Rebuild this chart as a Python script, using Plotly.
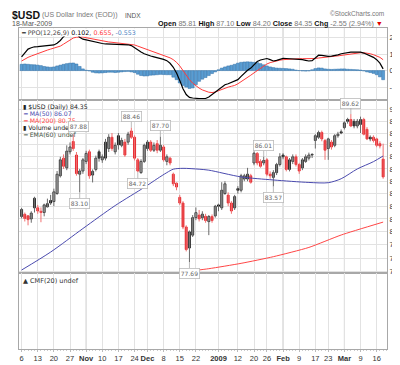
import math
import pandas as pd
import plotly.graph_objects as go
from plotly.subplots import make_subplots

# ---------------- data ----------------
holidays = ['2008-11-27', '2008-12-25', '2009-01-01', '2009-01-19', '2009-02-16']
days = [d for d in pd.bdate_range('2008-10-06', '2009-03-18') if d.strftime('%Y-%m-%d') not in holidays]
date_str = [d.strftime('%Y-%m-%d') for d in days]
pos = {s: i for i, s in enumerate(date_str)}
xi = list(range(len(days)))

opens = [81.19, 81.36, 81.24, 81.00, 81.87, 81.87, 81.60, 81.50, 81.95, 82.45,
         82.37, 83.01, 84.44, 85.89, 85.09, 86.42, 87.28, 86.15, 84.57, 84.83,
         85.62, 86.42, 84.50, 84.96, 86.42, 85.75, 85.89, 86.69, 87.64, 86.42,
         87.77, 86.96, 87.23, 87.23, 88.17, 87.64, 85.75, 84.70, 85.62, 86.69,
         87.23, 86.55, 87.10, 86.55, 86.82, 85.62, 85.89, 84.57, 83.84, 82.70,
         82.25, 80.37, 78.76, 79.74, 81.10, 81.30, 81.10, 81.20, 80.79, 81.19,
         81.24, 82.10, 81.87, 83.01, 82.88, 82.25, 81.87, 83.40, 83.27, 84.18,
         84.18, 84.44, 85.49, 86.28, 85.62, 85.50, 85.75, 84.57, 84.31, 84.70,
         85.36, 86.15, 86.00, 84.96, 85.62, 86.00, 85.36, 85.09, 85.62, 85.89,
         86.20, 87.37, 87.64, 88.04, 87.37, 86.69, 87.23, 86.96, 87.77, 88.10,
         88.46, 89.15, 89.15, 89.00, 88.60, 88.73, 89.15, 88.31, 87.64, 87.64,
         87.50, 87.10, 85.81]
highs = [81.87, 81.50, 81.30, 81.60, 82.75, 82.10, 81.90, 82.20, 82.60, 82.90,
         83.40, 84.83, 86.00, 86.20, 86.96, 87.20, 87.88, 86.40, 85.00, 85.90,
         86.50, 86.60, 84.96, 86.10, 86.60, 86.20, 87.50, 87.90, 88.00, 87.20,
         88.00, 87.60, 87.50, 88.10, 88.46, 87.80, 85.90, 85.80, 87.10, 87.40,
         87.40, 87.20, 87.40, 87.70, 87.00, 86.20, 86.00, 84.70, 83.90, 82.90,
         82.40, 80.50, 80.10, 81.30, 81.90, 81.70, 81.60, 81.40, 81.30, 81.35,
         82.10, 82.20, 83.92, 84.00, 83.10, 82.40, 82.90, 83.60, 84.60, 84.60,
         85.09, 84.60, 86.45, 86.40, 85.80, 86.01, 85.90, 84.80, 84.90, 85.50,
         86.30, 86.30, 86.10, 85.90, 86.20, 86.20, 85.50, 85.90, 86.20, 86.35,
         86.30, 87.90, 88.20, 88.20, 87.50, 87.60, 87.40, 87.90, 88.10, 88.30,
         89.00, 89.30, 89.62, 89.20, 89.20, 89.40, 89.30, 88.50, 87.80, 87.80,
         87.60, 87.30, 87.10]
lows = [81.04, 80.80, 80.50, 80.70, 81.50, 81.40, 80.74, 81.20, 81.90, 82.10,
        82.00, 82.90, 84.30, 85.00, 84.90, 86.20, 86.50, 84.45, 83.10, 84.60,
        85.40, 84.20, 83.90, 84.80, 85.60, 85.50, 85.70, 86.40, 86.50, 86.20,
        86.60, 86.80, 86.00, 87.00, 87.50, 85.70, 84.72, 84.60, 85.50, 86.50,
        86.40, 86.40, 86.30, 86.40, 85.60, 85.30, 85.30, 83.60, 83.27, 82.10,
        80.20, 78.50, 77.69, 79.60, 80.90, 80.80, 80.90, 80.70, 79.74, 80.70,
        81.10, 81.60, 81.70, 82.90, 82.00, 81.40, 81.70, 83.00, 83.10, 84.00,
        84.00, 83.80, 85.30, 85.30, 85.10, 85.30, 84.40, 84.20, 83.57, 84.50,
        85.20, 85.80, 84.80, 84.80, 85.40, 85.20, 84.60, 84.90, 85.50, 85.70,
        85.90, 86.69, 87.50, 87.30, 85.75, 85.75, 86.60, 86.80, 87.60, 87.90,
        88.30, 88.80, 88.50, 88.40, 88.40, 88.00, 87.80, 87.40, 87.30, 87.20,
        86.80, 86.70, 84.20]
closes = [81.74, 81.04, 80.94, 81.45, 82.63, 81.62, 81.50, 82.10, 82.20, 82.25,
          83.14, 84.57, 85.75, 85.22, 86.47, 86.82, 86.69, 84.62, 84.83, 85.75,
          86.28, 84.44, 84.80, 85.89, 85.89, 86.00, 87.23, 87.64, 86.69, 86.96,
          87.00, 87.37, 86.15, 87.90, 87.64, 85.89, 84.83, 85.62, 86.96, 87.23,
          86.55, 86.96, 86.55, 86.96, 85.75, 86.00, 85.49, 83.79, 83.53, 82.25,
          80.37, 78.64, 79.99, 81.10, 81.49, 81.00, 81.37, 80.87, 81.19, 80.87,
          81.99, 82.00, 83.27, 83.79, 82.25, 81.62, 82.76, 83.27, 84.44, 84.44,
          84.57, 83.92, 86.30, 85.49, 85.22, 85.70, 84.57, 84.44, 84.70, 85.36,
          86.00, 86.00, 84.96, 85.75, 86.00, 85.36, 84.83, 85.75, 86.00, 86.15,
          86.15, 87.77, 88.04, 87.50, 86.55, 87.50, 86.82, 87.77, 87.90, 88.00,
          88.87, 89.00, 88.60, 88.60, 89.00, 89.15, 87.90, 87.50, 87.50, 87.37,
          86.96, 86.90, 84.35]

ppo_line = [0.83, 1.10, 1.30, 1.38, 1.44, 1.45, 1.47, 1.48, 1.50, 1.52,
            1.55, 1.65, 1.82, 2.05, 2.25, 2.40, 2.45, 2.25, 2.02, 1.90,
            1.85, 1.80, 1.76, 1.72, 1.68, 1.64, 1.61, 1.60, 1.60, 1.59,
            1.60, 1.60, 1.58, 1.56, 1.51, 1.38, 1.22, 1.12, 1.02, 0.93,
            0.88, 0.83, 0.79, 0.74, 0.68, 0.60, 0.44, 0.20, -0.15, -0.60,
            -1.10, -1.45, -1.62, -1.66, -1.69, -1.70, -1.70, -1.69, -1.60, -1.45,
            -1.30, -1.15, -0.98, -0.86, -0.80, -0.72, -0.64, -0.55, -0.35, -0.14,
            0.02, 0.15, 0.38, 0.55, 0.64, 0.70, 0.73, 0.66, 0.58, 0.62,
            0.70, 0.74, 0.73, 0.72, 0.72, 0.71, 0.69, 0.66, 0.62, 0.58,
            0.60, 0.75, 0.93, 0.92, 0.88, 0.86, 0.87, 0.89, 0.95, 1.02,
            1.06, 1.10, 1.12, 1.12, 1.13, 1.12, 1.06, 0.98, 0.90, 0.80,
            0.66, 0.45, 0.102]
ppo_signal = [0.58, 0.70, 0.80, 0.88, 0.96, 1.04, 1.10, 1.17, 1.24, 1.30,
              1.35, 1.40, 1.48, 1.60, 1.73, 1.86, 1.97, 2.02, 2.04, 2.03,
              1.99, 1.95, 1.90, 1.86, 1.83, 1.79, 1.76, 1.73, 1.71, 1.69,
              1.67, 1.65, 1.63, 1.61, 1.59, 1.55, 1.48, 1.41, 1.33, 1.25,
              1.17, 1.10, 1.03, 0.97, 0.91, 0.85, 0.77, 0.66, 0.50, 0.28,
              0.00, -0.28, -0.55, -0.76, -0.92, -1.06, -1.17, -1.26, -1.31, -1.33,
              -1.30, -1.22, -1.14, -1.07, -1.00, -0.95, -0.90, -0.80, -0.68, -0.55,
              -0.42, -0.28, -0.14, 0.00, 0.14, 0.28, 0.40, 0.48, 0.54, 0.59,
              0.63, 0.66, 0.68, 0.70, 0.71, 0.72, 0.72, 0.72, 0.72, 0.71,
              0.71, 0.73, 0.76, 0.79, 0.81, 0.83, 0.85, 0.87, 0.89, 0.92,
              0.95, 0.99, 1.02, 1.04, 1.06, 1.08, 1.08, 1.06, 1.02, 0.96,
              0.90, 0.80, 0.655]
ppo_hist = [0.38, 0.40, 0.38, 0.36, 0.35, 0.33, 0.30, 0.25, 0.22, 0.20,
            0.22, 0.28, 0.33, 0.38, 0.42, 0.45, 0.46, 0.40, 0.25, 0.10,
            0.02, -0.02, -0.10, -0.14, -0.15, -0.14, -0.12, -0.10, -0.10, -0.12,
            -0.10, -0.08, -0.06, -0.05, -0.08, -0.12, -0.22, -0.30, -0.33, -0.32,
            -0.28, -0.27, -0.25, -0.23, -0.24, -0.25, -0.25, -0.40, -0.55, -0.75,
            -0.90, -1.00, -1.08, -1.05, -0.85, -0.65, -0.52, -0.42, -0.30, -0.18,
            -0.08, 0.05, 0.15, 0.22, 0.28, 0.32, 0.38, 0.45, 0.50, 0.52,
            0.53, 0.52, 0.50, 0.48, 0.42, 0.35, 0.28, 0.22, 0.18, 0.15,
            0.14, 0.13, 0.12, 0.10, 0.08, 0.03, 0.00, -0.02, -0.03, -0.02,
            0.05, 0.12, 0.16, 0.15, 0.10, 0.08, 0.07, 0.08, 0.09, 0.10,
            0.10, 0.08, 0.07, 0.06, 0.05, 0.03, -0.02, -0.08, -0.12, -0.17,
            -0.25, -0.38, -0.553]

ma50_dates = ['2008-10-06', '2008-10-17', '2008-10-31', '2008-11-14', '2008-11-28',
              '2008-12-04', '2008-12-09', '2008-12-11', '2008-12-16', '2008-12-23',
              '2008-12-29', '2009-01-13', '2009-01-28', '2009-02-12', '2009-02-23',
              '2009-02-27', '2009-03-06', '2009-03-13', '2009-03-18']
ma50_vals = [77.10, 78.45, 80.25, 82.05, 83.50, 84.20, 84.70, 84.98, 85.05, 84.98,
             84.90, 84.35, 84.10, 83.90, 83.88, 84.20, 85.00, 85.60, 86.07]
ma200_dates = ['2008-12-09', '2008-12-16', '2008-12-29', '2009-01-13', '2009-01-28',
               '2009-02-12', '2009-02-27', '2009-03-18']
ma200_vals = [76.70, 76.95, 77.20, 77.60, 78.10, 78.80, 79.75, 80.75]

tick_dates = ['2008-10-06', '2008-10-13', '2008-10-20', '2008-10-27', '2008-11-03',
              '2008-11-10', '2008-11-17', '2008-11-24', '2008-12-01', '2008-12-08',
              '2008-12-15', '2008-12-22', '2009-01-02', '2009-01-12', '2009-01-20',
              '2009-01-26', '2009-02-02', '2009-02-09', '2009-02-17', '2009-02-23',
              '2009-03-02', '2009-03-09', '2009-03-16']
tick_labels = ['6', '13', '20', '27', '<b>Nov</b>', '10', '17', '24', '<b>Dec</b>', '8',
               '15', '22', '<b>2009</b>', '12', '20', '26', '<b>Feb</b>', '9', '17', '23',
               '<b>Mar</b>', '9', '16']
month_dates = ['2008-11-03', '2008-12-01', '2009-01-02', '2009-02-02', '2009-03-02']
price_ticks = list(range(77, 91))
ppo_ticks = [-1, 0, 1, 2]

high_label_dates = ['2008-10-28', '2008-11-21', '2008-12-05', '2009-01-23', '2009-03-04']
low_label_dates = ['2008-10-30', '2008-11-25', '2008-12-18', '2009-01-28']

# ---------------- figure ----------------
RED = '#e3141c'
BLUE_MA = '#4a4aae'
RED_MA = '#ff4646'

fig = make_subplots(rows=3, cols=1, shared_xaxes=True, vertical_spacing=0)

# PPO panel
fig.add_trace(go.Bar(x=xi, y=ppo_hist, width=0.9,
                     marker=dict(color='#5a9dd2', line=dict(color='#2f6fa6', width=0.5)),
                     hoverinfo='skip'), row=1, col=1)
fig.add_trace(go.Scatter(x=xi, y=ppo_signal, mode='lines',
                         line=dict(color='#ff3b3b', width=1)), row=1, col=1)
fig.add_trace(go.Scatter(x=xi, y=ppo_line, mode='lines',
                         line=dict(color='#000000', width=1.2)), row=1, col=1)

# candle colours (StockCharts rule)
fills, edges = [], []
wk_x, wk_y, wr_x, wr_y = [], [], [], []
for i in xi:
    up = i == 0 or closes[i] >= closes[i - 1]
    col = '#000000' if up else RED
    hollow = closes[i] > opens[i]
    fills.append('#ffffff' if hollow else col)
    edges.append(col)
    if up:
        wk_x += [i, i, None]; wk_y += [lows[i], highs[i], None]
    else:
        wr_x += [i, i, None]; wr_y += [lows[i], highs[i], None]

fig.add_trace(go.Scatter(x=wk_x, y=wk_y, mode='lines', line=dict(color='#6a6a6a', width=1),
                         hoverinfo='skip'), row=2, col=1)
fig.add_trace(go.Scatter(x=wr_x, y=wr_y, mode='lines', line=dict(color='#f07070', width=1),
                         hoverinfo='skip'), row=2, col=1)
fig.add_trace(go.Bar(x=xi, y=[max(abs(c - o), 0.03) for o, c in zip(opens, closes)],
                     base=[min(o, c) for o, c in zip(opens, closes)], width=0.62,
                     marker=dict(color=fills, line=dict(color=edges, width=0.8))),
              row=2, col=1)
fig.add_trace(go.Scatter(x=[pos[d] for d in ma50_dates], y=ma50_vals, mode='lines',
                         line=dict(color=BLUE_MA, width=1, shape='spline', smoothing=0.8)),
              row=2, col=1)
fig.add_trace(go.Scatter(x=[pos[d] for d in ma200_dates], y=ma200_vals, mode='lines',
                         line=dict(color=RED_MA, width=1, shape='spline', smoothing=0.6)),
              row=2, col=1)

# empty CMF panel
fig.add_trace(go.Scatter(x=[xi[0]], y=[0.5], mode='markers', marker=dict(opacity=0),
                         hoverinfo='skip'), row=3, col=1)

L, R, T, B = 10, 21, 20, 11
W, H = 400, 365
pw, ph = W - L - R, H - T - B


def px(x):
    return (x - L) / pw


def py(y):
    return (H - B - y) / ph


tickfont = dict(family='Liberation Sans', size=7.5, color='#333')
tickvals = [pos[d] for d in tick_dates]
for ax in ['xaxis', 'xaxis2', 'xaxis3']:
    fig.layout[ax].update(range=[-0.8, 113.2], tickmode='array', tickvals=tickvals,
                          ticktext=tick_labels, showgrid=True, gridcolor='#e2e2e2', gridwidth=1,
                          showline=True, mirror=True, linecolor='#a8a8a8', linewidth=1,
                          zeroline=False, showticklabels=(ax == 'xaxis3'), tickfont=tickfont,
                          ticks='', tickangle=0)
fig.layout.xaxis3.update(ticks='outside', ticklen=2, tickcolor='#bbbbbb', tickangle=0,
                         minor=dict(dtick=1, tick0=0, ticklen=1, tickcolor='#cccccc', ticks='outside'))

fig.layout.yaxis.update(domain=[py(95), 1], range=[-1.785, 2.576], side='right',
                        tickmode='array', tickvals=ppo_ticks, ticktext=[str(v) for v in ppo_ticks],
                        showgrid=True, gridcolor='#e2e2e2', zeroline=False, showline=True,
                        mirror=True, linecolor='#a8a8a8', tickfont=tickfont, ticks='')
fig.layout.yaxis2.update(domain=[py(274.5), py(95)], type='log',
                         range=[math.log10(76.91), math.log10(90.84)], side='right',
                         tickmode='array', tickvals=price_ticks,
                         ticktext=[str(v) for v in price_ticks], showgrid=True,
                         gridcolor='#e2e2e2', zeroline=False, showline=True, mirror=True,
                         linecolor='#a8a8a8', tickfont=tickfont, ticks='')
fig.layout.yaxis3.update(domain=[0, py(274.5)], range=[0, 1], showgrid=False, zeroline=False,
                         showticklabels=False, showline=True, mirror=True, linecolor='#a8a8a8',
                         ticks='')

# darker month separators
for d in month_dates:
    fig.add_shape(type='line', xref='x3', yref='paper', x0=pos[d], x1=pos[d], y0=0, y1=1,
                  line=dict(color='#c4c4c4', width=1), layer='below')

ann = []
HF = 'Liberation Sans'
LF = 'DejaVu Sans'


def text(x, y, t, size=7, color='#000', family=HF, xanchor='left', bg=None):
    d = dict(x=px(x), y=py(y), xref='paper', yref='paper', text=t, showarrow=False,
             xanchor=xanchor, yanchor='middle', font=dict(family=family, size=size, color=color))
    if bg:
        d.update(bgcolor=bg, borderpad=0)
    ann.append(d)


# header
text(1, 6, '<b>$USD</b>', size=10.5, color='#111')
text(31, 6.5, '(US Dollar Index (EOD))', size=7, color='#777')
text(114, 6.5, 'INDX', size=6.5, color='#555')
text(378, 5, '©StockCharts.com', size=6.5, color='#777', xanchor='right')
text(1, 14.8, '18-Mar-2009', size=7, color='#555')
chg = closes[-1] - closes[-2]
hdr = ("<b>Open</b> <span style='color:#777'>%.2f</span> <b>High</b> <span style='color:#777'>%.2f</span> "
       "<b>Low</b> <span style='color:#777'>%.2f</span> <b>Close</b> <span style='color:#777'>%.2f</span> "
       "<b>Chg</b> <span style='color:#777'>%.2f (2.94%%)</span> <span style='color:#e00000'>▼</span>"
       % (opens[-1], highs[-1], lows[-1], closes[-1], chg))
text(377, 14.8, hdr, size=7.2, color='#111', xanchor='right')

# PPO legend
text(11, 24.2, "<span style='color:#000'>━</span> <span style='color:#444'>PPO(12,26,9)</span> "
     "<span style='color:#000'>%.3f</span>, <span style='color:#ff3b3b'>%.3f</span>, "
     "<span style='color:#4a7fc0'>%.3f</span>" % (ppo_line[-1], ppo_signal[-1], ppo_hist[-1]),
     size=6.3, family=LF, color='#444', bg='#ffffff')

# main legend
LS = 6.2
text(12, 102, "<span style='color:#222'>▮</span> $USD (Daily) %.2f" % closes[-1], size=LS, family=LF, color='#222')
text(12, 109, "<span style='color:%s'>━</span> MA(50) %.2f" % (BLUE_MA, ma50_vals[-1]), size=LS, family=LF, color=BLUE_MA)
text(12, 116.3, "<span style='color:%s'>━</span> MA(200) %.2f" % (RED_MA, ma200_vals[-1]), size=LS, family=LF, color=RED_MA)
text(12, 123.6, "<span style='color:#222'>▮</span> Volume undef", size=LS, family=LF, color='#222')
text(12, 130.8, "<span style='color:#556655'>━</span> EMA(60) undef", size=LS, family=LF, color='#445544')

# CMF legend
text(12, 283, "▲ CMF(20) undef", size=6.5, family=LF, color='#333')

# high / low labels
lab = dict(xref='x2', yref='y2', showarrow=True, arrowhead=0, arrowwidth=0.8, arrowcolor='#aaaaaa',
           bgcolor='#ffffff', bordercolor='#bbbbbb', borderwidth=0.8, borderpad=1,
           font=dict(family=LF, size=6, color='#666'))
for d in high_label_dates:
    i = pos[d]
    if d == '2008-10-28':
        shift, up = 5, -8
    else:
        shift, up = 0, -11
    ann.append(dict(x=i, y=math.log10(highs[i]), text='%.2f' % highs[i], ax=shift, ay=up, **lab))
for d in low_label_dates:
    i = pos[d]
    ann.append(dict(x=i, y=math.log10(lows[i]), text='%.2f' % lows[i], ax=0, ay=11, **lab))

fig.update_layout(width=W, height=H, margin=dict(l=L, r=R, t=T, b=B),
                  paper_bgcolor='#ffffff', plot_bgcolor='#ffffff', showlegend=False,
                  barmode='overlay', annotations=ann, hovermode=False)

fig.write_html('out.html')
